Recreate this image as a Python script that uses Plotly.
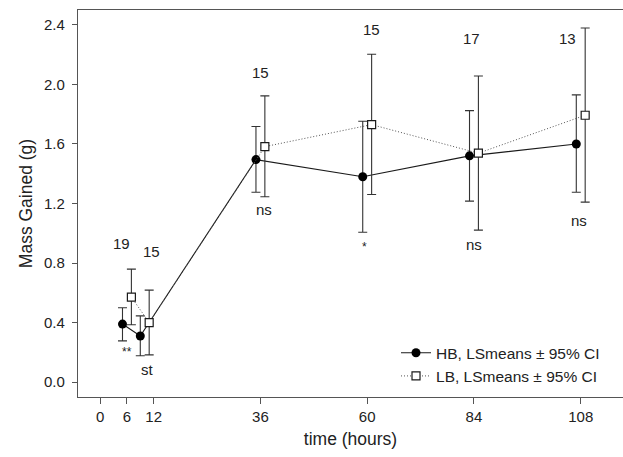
import plotly.graph_objects as go

# ---- data ----
hb_x = [5, 9, 35, 59, 83, 107]
hb_y = [0.39, 0.31, 1.495, 1.38, 1.52, 1.60]
hb_hi = [0.50, 0.445, 1.717, 1.753, 1.824, 1.93]
hb_lo = [0.277, 0.177, 1.276, 1.007, 1.216, 1.276]

lb_x = [7, 11, 37, 61, 85, 109]
lb_y = [0.571, 0.40, 1.582, 1.73, 1.538, 1.793]
lb_hi = [0.759, 0.618, 1.923, 2.203, 2.057, 2.379]
lb_lo = [0.385, 0.183, 1.245, 1.26, 1.021, 1.209]

n_labels = ["19", "15", "15", "15", "17", "13"]
n_x = [4.7, 11.6, 36.1, 60.9, 83.4, 105.0]
n_y = [0.93, 0.875, 2.08, 2.366, 2.31, 2.31]

sig_labels = ["**", "st", "ns", "*", "ns", "ns"]
sig_x = [6.0, 10.7, 36.7, 59.5, 84.0, 107.6]
sig_y = [0.20, 0.082, 1.162, 0.911, 0.926, 1.083]

x_ticks = [0, 6, 12, 36, 60, 84, 108]
y_ticks = [0.0, 0.4, 0.8, 1.2, 1.6, 2.0, 2.4]

FONT = "Liberation Sans, Arial, sans-serif"
INK = "#222222"

fig = go.Figure()

fig.add_trace(go.Scatter(
    x=hb_x, y=hb_y, mode="lines+markers",
    name="HB, LSmeans \u00b1 95% CI",
    line=dict(color="#1a1a1a", width=1.1),
    marker=dict(symbol="circle", size=9, color="black"),
    error_y=dict(type="data", symmetric=False,
                 array=[h - m for h, m in zip(hb_hi, hb_y)],
                 arrayminus=[m - l for m, l in zip(hb_y, hb_lo)],
                 color="#333333", thickness=1.1, width=4.5),
))

fig.add_trace(go.Scatter(
    x=lb_x, y=lb_y, mode="lines+markers",
    name="LB, LSmeans \u00b1 95% CI",
    line=dict(color="#555555", width=1.0, dash="1px,2px"),
    marker=dict(symbol="square", size=8, color="white",
                line=dict(color="#1a1a1a", width=1.2)),
    error_y=dict(type="data", symmetric=False,
                 array=[h - m for h, m in zip(lb_hi, lb_y)],
                 arrayminus=[m - l for m, l in zip(lb_y, lb_lo)],
                 color="#333333", thickness=1.1, width=4.5),
))

for t, x, y in zip(n_labels, n_x, n_y):
    fig.add_annotation(x=x, y=y, text=t, showarrow=False,
                       font=dict(family=FONT, size=15, color=INK))
for t, x, y in zip(sig_labels, sig_x, sig_y):
    sz = 12 if "*" in t else 15
    fig.add_annotation(x=x, y=y, text=t, showarrow=False,
                       font=dict(family=FONT, size=sz, color=INK))

fig.update_layout(
    width=623, height=457,
    margin=dict(l=78, r=0, t=10, b=60),
    paper_bgcolor="white", plot_bgcolor="white",
    font=dict(family=FONT, size=15, color=INK),
    showlegend=True,
    legend=dict(x=0.5835, y=0.0835, xanchor="left", yanchor="middle",
                bgcolor="rgba(0,0,0,0)", font=dict(size=15.5, color=INK),
                tracegroupgap=0, itemwidth=30),
    xaxis=dict(range=[-5, 117.5], tickmode="array", tickvals=x_ticks,
               ticktext=[str(v) for v in x_ticks],
               showgrid=False, zeroline=False,
               showline=True, mirror=True, linecolor="#555555", linewidth=1.3,
               ticks="outside", ticklen=6, tickcolor="#555555",
               tickfont=dict(size=15),
               title=dict(text="time (hours)", font=dict(size=17.5), standoff=8)),
    yaxis=dict(range=[-0.1, 2.5], tickmode="array", tickvals=y_ticks,
               ticktext=["%.1f" % v for v in y_ticks],
               showgrid=False, zeroline=False,
               showline=True, linecolor="#555555", linewidth=1.3,
               ticks="outside", ticklen=5, tickcolor="#555555",
               tickfont=dict(size=15), ticklabelstandoff=4,
               title=dict(text="Mass Gained (g)", font=dict(size=17.5), standoff=6)),
)

fig.write_html("out.html", config={"displayModeBar": False},
               post_script="document.body.style.margin='0';document.body.style.overflow='hidden';")
